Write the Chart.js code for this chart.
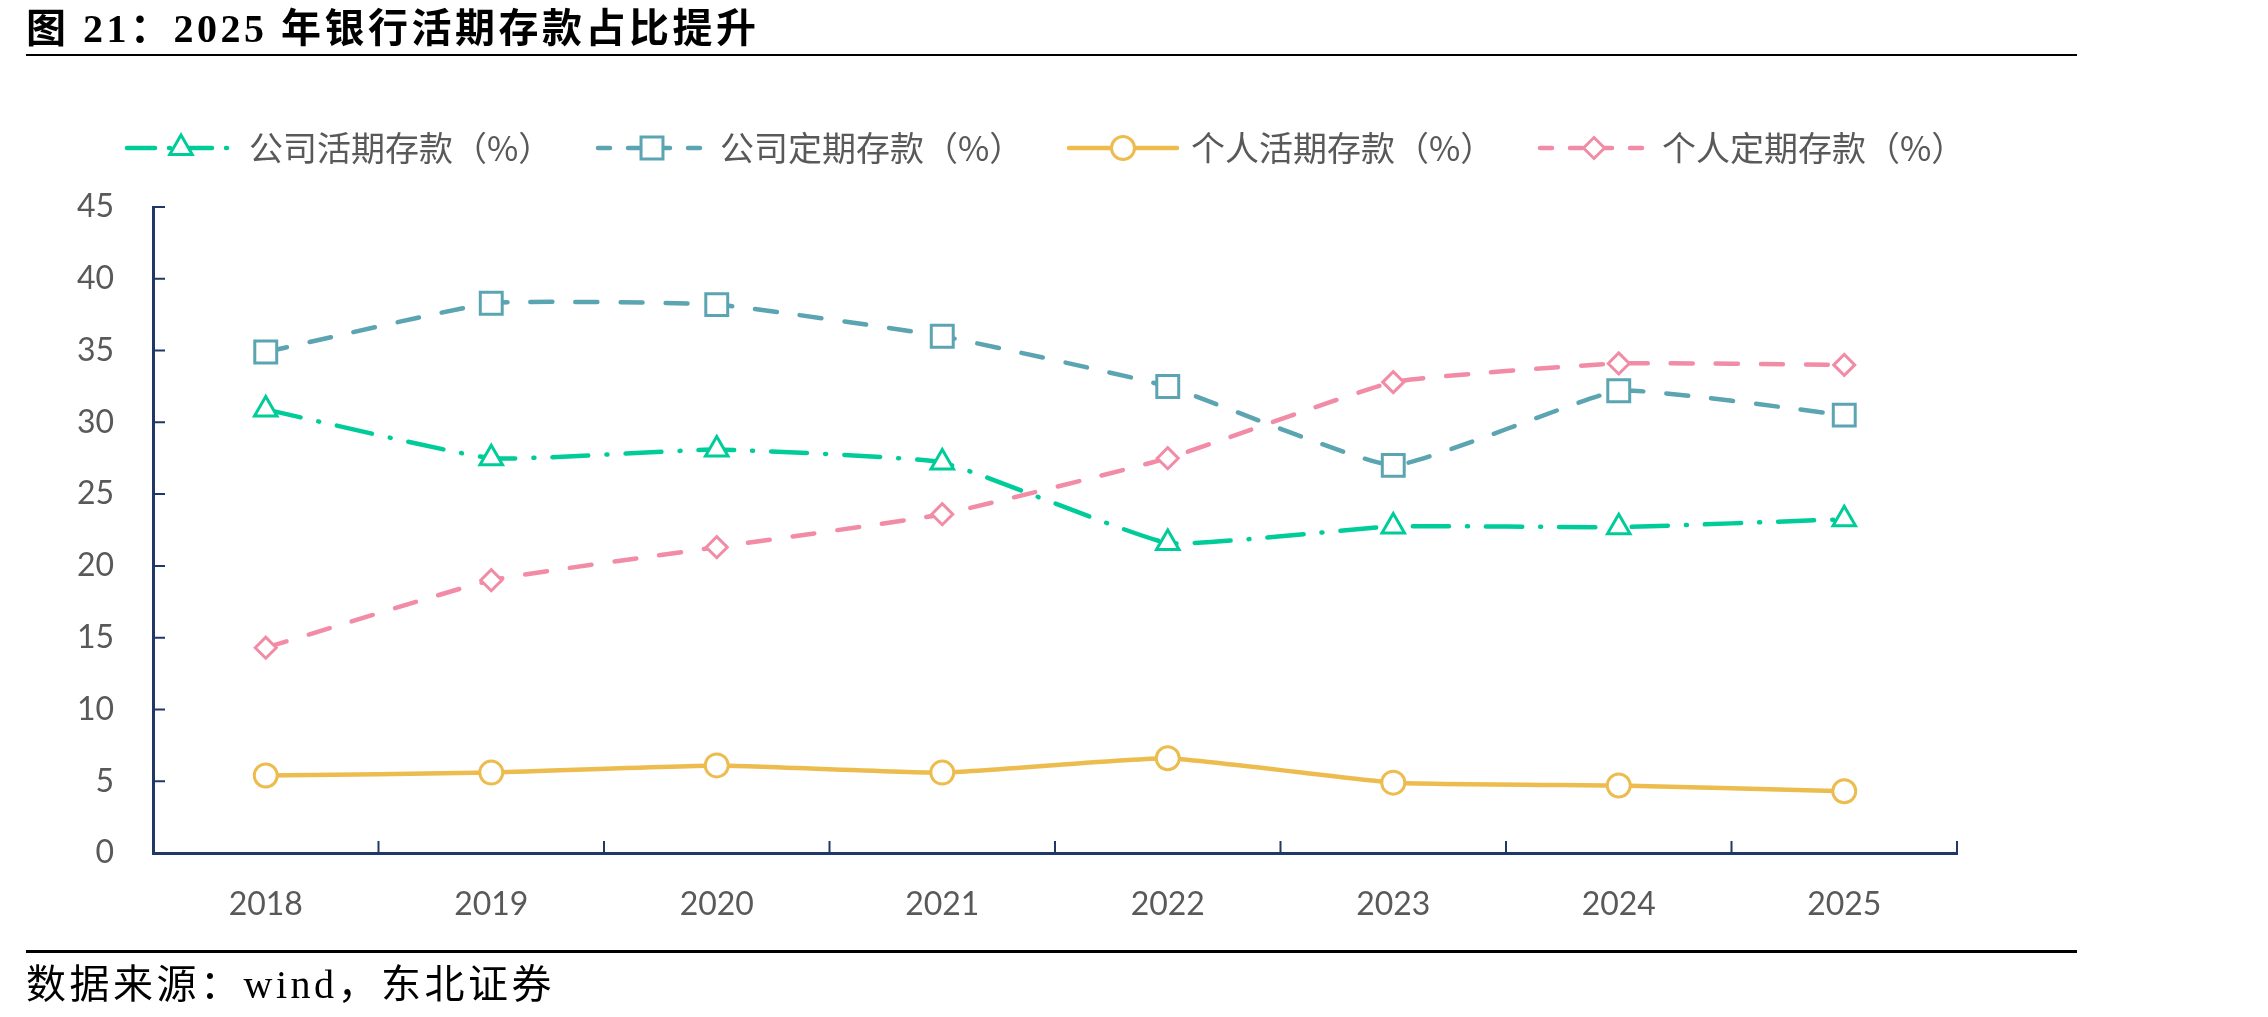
<!DOCTYPE html>
<html>
<head>
<meta charset="utf-8">
<script src="https://cdn.jsdelivr.net/npm/chart.js@4.4.1/dist/chart.umd.min.js"></script>
<style>
  body { margin: 0; background: #fff; width: 2268px; height: 1017px; position: relative; overflow: hidden; }
  canvas { position: absolute; left: 0; top: 0; }
  #title { position: absolute; left: 26px; top: 7px; font: bold 40px "Liberation Serif", "Noto Sans CJK SC"; letter-spacing: 3.5px; color: #000; white-space: nowrap; line-height: 44px; }
  .rule { position: absolute; left: 26px; width: 2051px; background: #000; }
  #source { position: absolute; left: 26px; top: 963px; font: 40px "Liberation Serif", "Noto Sans CJK SC"; letter-spacing: 3.5px; color: #000; white-space: nowrap; line-height: 44px; }
</style>
</head>
<body>
<canvas id="chart" width="2268" height="1017"></canvas>
<div id="title">图 21：2025 年银行活期存款占比提升</div>
<div class="rule" style="top:54px;height:2px"></div>
<div class="rule" style="top:950px;height:3px"></div>
<div id="source">数据来源：wind，东北证券</div>

<script>
// categories
const years = ['2018', '2019', '2020', '2021', '2022', '2023', '2024', '2025'];

// series (%)
const corpDemand = [30.9, 27.5, 28.1, 27.2, 21.6, 22.75, 22.7, 23.25];
const corpTime = [34.9, 38.3, 38.2, 36.0, 32.5, 27.0, 32.2, 30.5];
const personDemand = [5.4, 5.6, 6.1, 5.6, 6.6, 4.9, 4.7, 4.3];
const personTime = [14.3, 19.0, 21.3, 23.6, 27.5, 32.8, 34.1, 34.0];

const seriesNames = ['公司活期存款（%）', '公司定期存款（%）', '个人活期存款（%）', '个人定期存款（%）'];

// y axis
const yMin = 0;
const yMax = 45;
const yStep = 5;

const axisColor = '#1F3864';
const labelColor = '#595959';

function drawMarker(ctx, style, r, cx, cy) {
  ctx.beginPath();
  if (style === 'triangle') {
    ctx.moveTo(cx, cy - r);
    ctx.lineTo(cx + r * 0.866, cy + r / 2);
    ctx.lineTo(cx - r * 0.866, cy + r / 2);
    ctx.closePath();
  } else if (style === 'rect') {
    const s = r * Math.SQRT1_2;
    ctx.rect(cx - s, cy - s, 2 * s, 2 * s);
  } else if (style === 'rectRot') {
    ctx.moveTo(cx, cy - r);
    ctx.lineTo(cx + r, cy);
    ctx.lineTo(cx, cy + r);
    ctx.lineTo(cx - r, cy);
    ctx.closePath();
  } else {
    ctx.arc(cx, cy, r, 0, Math.PI * 2);
  }
  ctx.fill();
  ctx.stroke();
}

// inward tick marks on both axes
const tickMarks = {
  id: 'tickMarks',
  afterDraw(chart) {
    const { ctx, scales: { x, y } } = chart;
    ctx.save();
    ctx.strokeStyle = axisColor;
    ctx.lineWidth = 2;
    ctx.beginPath();
    y.ticks.forEach((t, i) => {
      const py = y.getPixelForTick(i);
      ctx.moveTo(x.left, py);
      ctx.lineTo(x.left + 12, py);
    });
    const step = x.width / years.length;
    for (let i = 1; i <= years.length; i++) {
      const px = x.left + i * step;
      ctx.moveTo(px, y.bottom);
      ctx.lineTo(px, y.bottom - 12);
    }
    ctx.stroke();
    ctx.restore();
  }
};

// legend: line + marker + label
const lineLegend = {
  id: 'lineLegend',
  afterDraw(chart) {
    const ctx = chart.ctx;
    const cy = 148;
    ctx.save();
    chart.data.datasets.forEach((ds, i) => {
      const x0 = 127 + i * 471;
      const len = 108;
      ctx.strokeStyle = ds.borderColor;
      ctx.lineWidth = ds.borderWidth;
      ctx.lineCap = 'round';
      ctx.setLineDash(ds.legendDash);
      ctx.beginPath();
      ctx.moveTo(x0, cy);
      ctx.lineTo(x0 + len, cy);
      ctx.stroke();
      ctx.setLineDash([]);
      ctx.fillStyle = '#fff';
      ctx.lineWidth = ds.pointBorderWidth;
      drawMarker(ctx, ds.pointStyle, ds.pointRadius, x0 + len / 2, cy);
      ctx.fillStyle = labelColor;
      ctx.font = '34px "Noto Sans CJK SC"';
      ctx.textBaseline = 'middle';
      ctx.textAlign = 'left';
      ctx.fillText(ds.label, x0 + len + 14, cy);
    });
    ctx.restore();
  }
};

const common = {
  borderWidth: 4.5,
  borderCapStyle: 'round',
  pointBackgroundColor: '#fff',
  backgroundColor: '#fff',
  pointBorderWidth: 3,
  tension: 0.12
};

new Chart(document.getElementById('chart').getContext('2d'), {
  type: 'line',
  data: {
    labels: years,
    datasets: [
      Object.assign({}, common, {
        label: seriesNames[0], data: corpDemand,
        borderColor: '#00CC99', pointBorderColor: '#00CC99',
        borderDash: [36, 18, 1, 18], legendDash: [28, 14, 1, 14],
        pointStyle: 'triangle', pointRadius: 13
      }),
      Object.assign({}, common, {
        label: seriesNames[1], data: corpTime,
        borderColor: '#5BA4B1', pointBorderColor: '#5BA4B1',
        borderDash: [22, 23], legendDash: [12, 18],
        pointStyle: 'rect', pointRadius: 15.5
      }),
      Object.assign({}, common, {
        label: seriesNames[2], data: personDemand,
        borderColor: '#EDBC4E', pointBorderColor: '#EDBC4E',
        legendDash: [],
        pointStyle: 'circle', pointRadius: 11.5
      }),
      Object.assign({}, common, {
        label: seriesNames[3], data: personTime,
        borderColor: '#F28BA5', pointBorderColor: '#F28BA5',
        borderDash: [22, 23], legendDash: [12, 18],
        pointStyle: 'rectRot', pointRadius: 10.5
      })
    ]
  },
  options: {
    responsive: false,
    animation: false,
    events: [],
    layout: { padding: { left: 0, top: 207, right: 311, bottom: 84 } },
    plugins: { legend: { display: false }, tooltip: { enabled: false } },
    scales: {
      x: {
        offset: true,
        grid: { display: false },
        border: { color: axisColor, width: 3 },
        ticks: { color: labelColor, font: { family: 'Lato', size: 32 }, padding: 24 },
        afterFit: s => { s.height = 80; }
      },
      y: {
        min: yMin,
        max: yMax,
        grid: { display: false },
        border: { color: axisColor, width: 3 },
        ticks: { stepSize: yStep, color: labelColor, font: { family: 'Lato', size: 32 }, padding: 31 },
        afterFit: s => { s.width = 153; }
      }
    }
  },
  plugins: [tickMarks, lineLegend]
});
</script>
</body>
</html>
